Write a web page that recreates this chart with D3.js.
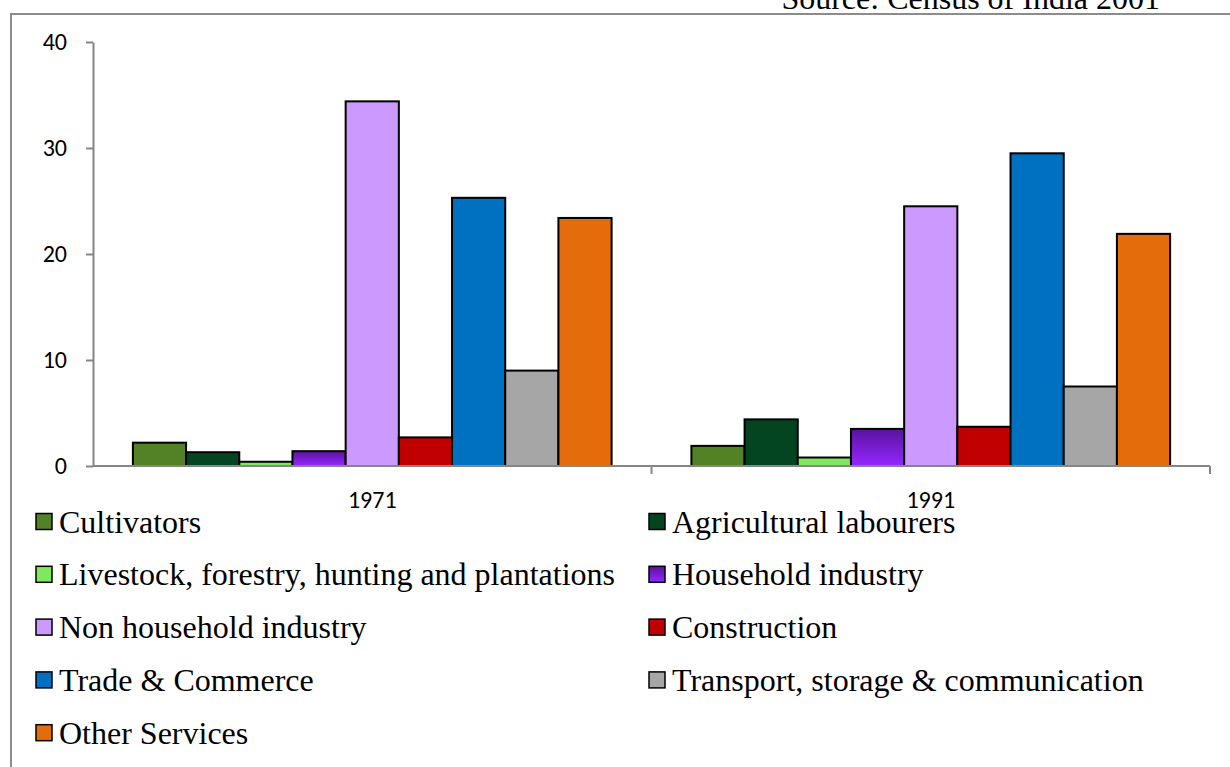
<!DOCTYPE html>
<html>
<head>
<meta charset="utf-8">
<script src="https://cdn.jsdelivr.net/npm/d3@7"></script>
<style>
  body { margin: 0; background: #fff; }
  svg { display: block; }
</style>
</head>
<body>
<svg id="chart" width="1230" height="767"></svg>
<script>
// data
let years = ["1971", "1991"];
let sectors = [
    "Cultivators",
    "Agricultural labourers",
    "Livestock, forestry, hunting and plantations",
    "Household industry",
    "Non household industry",
    "Construction",
    "Trade & Commerce",
    "Transport, storage & communication",
    "Other Services"
];
let values1971 = [2.2, 1.3, 0.4, 1.4, 34.4, 2.7, 25.3, 9.0, 23.4];
let values1991 = [1.9, 4.4, 0.8, 3.5, 24.5, 3.7, 29.5, 7.5, 21.9];
let yTicks = [0, 10, 20, 30, 40];

// colors
let sectorColors = ["#538126", "#034421", "#7fe85f", "url(#hhGrad)", "#cc99ff",
                    "#c00000", "#0070c0", "#a6a6a6", "#e46c0a"];
let axisGrey = "#868686";
let serifFont = "'Liberation Serif', 'Times New Roman', serif";
let axisFont = "Carlito, Lato, sans-serif";

let svg = d3.select("#chart");

let defs = svg.append("defs");
let grad = defs.append("linearGradient")
    .attr("id", "hhGrad")
    .attr("x1", 0).attr("y1", 0).attr("x2", 0).attr("y2", 1);
grad.append("stop").attr("offset", "0%").attr("stop-color", "#5a139e");
grad.append("stop").attr("offset", "100%").attr("stop-color", "#9527ff");

// page frame
svg.append("path")
    .attr("d", "M11,767 V14 H1230")
    .attr("fill", "none")
    .attr("stroke", "#8c8c8c")
    .attr("stroke-width", 2);

// source note (cut off at top, as in the scan)
svg.append("text")
    .attr("x", 1160)
    .attr("y", 9)
    .attr("text-anchor", "end")
    .style("font-family", serifFont)
    .style("font-size", "32px")
    .text("Source: Census of India 2001");

let plotLeft = 93, plotRight = 1210, plotTop = 42, plotBottom = 466;

let x0 = d3.scaleBand().domain(years).range([plotLeft, plotRight]);
let x1 = d3.scaleBand().domain(sectors).range([0, x0.bandwidth()])
    .paddingInner(0).paddingOuter(0.75);
let y = d3.scaleLinear().domain([0, 40]).range([plotBottom, plotTop]);

let rows = years.map((yr, i) => ({
    year: yr,
    vals: (i === 0 ? values1971 : values1991)
}));

// bars
let groups = svg.selectAll(".yr")
    .data(rows)
    .enter()
    .append("g")
    .attr("class", "yr")
    .attr("transform", d => "translate(" + x0(d.year) + ",0)");

groups.selectAll("rect")
    .data(d => d.vals.map((v, j) => ({sector: sectors[j], v: v, c: sectorColors[j]})))
    .enter()
    .append("rect")
    .attr("x", d => x1(d.sector))
    .attr("y", d => y(d.v))
    .attr("width", x1.bandwidth())
    .attr("height", d => y(0) - y(d.v))
    .attr("fill", d => d.c)
    .attr("stroke", "#000")
    .attr("stroke-width", 2);

// y axis
let yAxis = svg.append("g")
    .attr("transform", "translate(" + plotLeft + ",0)")
    .call(d3.axisLeft(y).tickValues(yTicks).tickSize(7).tickSizeOuter(0).tickPadding(19));
yAxis.select(".domain").attr("stroke", axisGrey).attr("stroke-width", 2);
yAxis.selectAll(".tick line").attr("stroke", axisGrey).attr("stroke-width", 2);
yAxis.selectAll("text")
    .style("font-family", axisFont)
    .style("font-size", "24px")
    .attr("fill", "#000");

// x axis
let xAxisG = svg.append("g")
    .attr("transform", "translate(0," + plotBottom + ")");
xAxisG.append("line")
    .attr("x1", plotLeft).attr("x2", plotRight)
    .attr("stroke", axisGrey).attr("stroke-width", 2);
xAxisG.selectAll(".sep")
    .data(years)
    .enter()
    .append("line")
    .attr("class", "sep")
    .attr("x1", d => x0(d) + x0.bandwidth())
    .attr("x2", d => x0(d) + x0.bandwidth())
    .attr("y1", 0).attr("y2", 8)
    .attr("stroke", axisGrey).attr("stroke-width", 2);
xAxisG.selectAll(".lbl")
    .data(years)
    .enter()
    .append("text")
    .attr("class", "lbl")
    .attr("x", d => x0(d) + x0.bandwidth() / 2)
    .attr("y", 42)
    .attr("text-anchor", "middle")
    .style("font-family", axisFont)
    .style("font-size", "24px")
    .text(d => d);

// legend, two columns
let legend = svg.append("g");
let items = legend.selectAll(".item")
    .data(sectors.map((s, i) => ({name: s, c: sectorColors[i], i: i})))
    .enter()
    .append("g")
    .attr("class", "item")
    .attr("transform", d => "translate(" + (d.i % 2 === 0 ? 36 : 649) + "," + (521.5 + Math.floor(d.i / 2) * 52.8) + ")");

items.append("rect")
    .attr("x", 0).attr("y", -8)
    .attr("width", 16).attr("height", 16)
    .attr("fill", d => d.c)
    .attr("stroke", "#000")
    .attr("stroke-width", 1.5);

items.append("text")
    .attr("x", 23)
    .attr("y", 11)
    .style("font-family", serifFont)
    .style("font-size", "32px")
    .text(d => d.name);
</script>
</body>
</html>
